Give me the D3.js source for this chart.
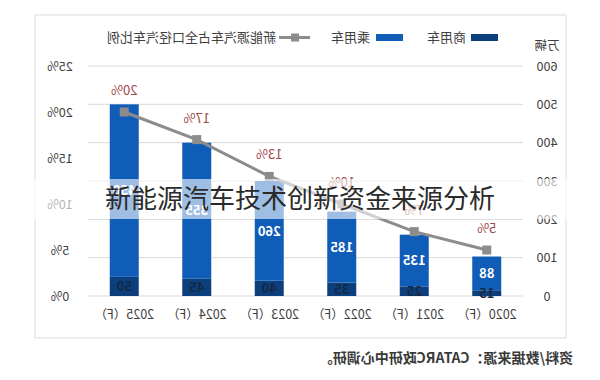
<!DOCTYPE html>
<html><head><meta charset="utf-8">
<script src="https://cdn.jsdelivr.net/npm/d3@7"></script>
<style>body{margin:0;background:#fff}svg{display:block}</style>
</head><body><svg id="c" width="600" height="380"></svg>
<script>
const years = ["2020（F）","2021（F）","2022（F）","2023（F）","2024（F）","2025（F）"];
const commercial = [15,25,35,40,45,50];
const passenger = [88,135,185,260,355,450];
const share = [5,7,10,13,17,20];
const countTicks = [0,100,200,300,400,500,600];
const pctTicks = [0,5,10,15,20,25];
const title = "新能源汽车技术创新资金来源分析";
const source = "资料/数据来源：CATARC政研中心调研。";

const svg = d3.select("#c");
const font = "'Noto Sans CJK SC','Noto Sans',sans-serif";
const g = svg.append("g").attr("transform","translate(600,0) scale(-1,1)");

g.append("rect").attr("x",34).attr("y",15).attr("width",531).attr("height",323)
 .attr("fill","#fff").attr("stroke","#dcdcdc");

const x = d3.scaleBand().domain(years).range([77,512]).paddingInner(0.6).paddingOuter(0.3);
const y = d3.scaleLinear().domain([0,600]).range([296,66]);
const yp = d3.scaleLinear().domain([0,25]).range([296,66]);

g.selectAll(".grid").data(countTicks).join("line")
 .attr("x1",77).attr("x2",512).attr("y1",d=>y(d)).attr("y2",d=>y(d))
 .attr("stroke","#d9d9d9").attr("stroke-width",1);

const yAxis = d3.axisLeft(y).tickValues(countTicks).tickSize(0).tickPadding(12);
const ga = g.append("g").attr("transform","translate(64,0)").call(yAxis);
ga.select(".domain").remove();
ga.selectAll("text").attr("font-size",12.5).attr("fill","#404040").attr("font-family",font)
 .attr("text-anchor","middle").attr("x",-11);
g.append("text").attr("x",53).attr("y",50).attr("text-anchor","middle")
 .attr("font-size",12.5).attr("fill","#404040").attr("font-family",font).text("万辆");

const pAxis = d3.axisRight(yp).tickValues(pctTicks).tickSize(0).tickPadding(12).tickFormat(d=>d+"%");
const gp = g.append("g").attr("transform","translate(526,0)").call(pAxis);
gp.select(".domain").remove();
gp.selectAll("text").attr("font-size",12.5).attr("fill","#404040").attr("font-family",font)
 .attr("text-anchor","middle").attr("x",14);

const xAxis = d3.axisBottom(x).tickSize(0).tickPadding(14);
const gx = g.append("g").attr("transform","translate(0,296)").call(xAxis);
gx.select(".domain").remove();
gx.selectAll("text").attr("font-size",12.5).attr("fill","#404040").attr("font-family",font);

// bars
g.selectAll(".bc").data(years).join("rect")
 .attr("x",d=>x(d)).attr("width",x.bandwidth())
 .attr("y",(d,i)=>y(commercial[i])).attr("height",(d,i)=>y(0)-y(commercial[i]))
 .attr("fill","#0c3f7c");
g.selectAll(".bp").data(years).join("rect")
 .attr("x",d=>x(d)).attr("width",x.bandwidth())
 .attr("y",(d,i)=>y(commercial[i]+passenger[i])).attr("height",(d,i)=>y(commercial[i])-y(commercial[i]+passenger[i]))
 .attr("fill","#105db8");

g.selectAll(".lc").data(years).join("text")
 .attr("x",d=>x(d)+x.bandwidth()/2).attr("y",(d,i)=>y(commercial[i]/2)).attr("dy","0.36em")
 .attr("text-anchor","middle").attr("font-size",13).attr("font-weight","bold")
 .attr("font-family",font).attr("fill","#132a48").text((d,i)=>commercial[i]);
g.selectAll(".lp").data(years).join("text")
 .attr("x",d=>x(d)+x.bandwidth()/2).attr("y",(d,i)=>y(commercial[i]+passenger[i]/2)).attr("dy","0.36em")
 .attr("text-anchor","middle").attr("font-size",13).attr("font-weight","bold")
 .attr("font-family",font).attr("fill","#fff").text((d,i)=>passenger[i]);

// line
const cx = d=>x(d)+x.bandwidth()/2;
const line = d3.line().x((d,i)=>cx(years[i])).y(d=>yp(d));
g.append("path").datum(share).attr("d",line).attr("fill","none")
 .attr("stroke","#8c8c8c").attr("stroke-width",3);
g.selectAll(".m").data(share).join("rect")
 .attr("x",(d,i)=>cx(years[i])-4.5).attr("y",d=>yp(d)-4.5).attr("width",9).attr("height",9)
 .attr("fill","#8c8c8c");
g.selectAll(".pl").data(share).join("text")
 .attr("x",(d,i)=>cx(years[i])).attr("y",d=>yp(d)-17)
 .attr("text-anchor","middle").attr("font-size",13).attr("font-family",font)
 .attr("fill","#a04848").text(d=>d+"%");

// legend
const lg = g.append("g").attr("font-family",font).attr("font-size",13).attr("fill","#404040");
lg.append("rect").attr("x",102).attr("y",34).attr("width",27).attr("height",7).attr("fill","#0c3f7c");
lg.append("text").attr("x",134).attr("y",42).text("商用车");
lg.append("rect").attr("x",197).attr("y",34).attr("width",27).attr("height",7).attr("fill","#105db8");
lg.append("text").attr("x",230).attr("y",42).text("乘用车");
lg.append("line").attr("x1",290).attr("x2",321).attr("y1",37.5).attr("y2",37.5).attr("stroke","#8c8c8c").attr("stroke-width",3);
lg.append("rect").attr("x",301).attr("y",33.5).attr("width",8).attr("height",8).attr("fill","#8c8c8c");
lg.append("text").attr("x",324).attr("y",42).text("新能源汽车占全口径汽车比例");

g.append("text").attr("x",27).attr("y",363).attr("font-size",14).attr("font-weight","bold")
 .attr("font-family",font).attr("fill","#3a3a3a").text(source);

// watermark (not mirrored)
svg.append("rect").attr("x",0).attr("y",179).attr("width",600).attr("height",40)
 .attr("fill","#fff").attr("opacity",0.6);
svg.append("text").attr("x",300).attr("y",199).attr("dy","0.36em").attr("text-anchor","middle")
 .attr("font-size",26).attr("font-family",font).attr("fill","#2a2a2a").text(title);
</script></body></html>
